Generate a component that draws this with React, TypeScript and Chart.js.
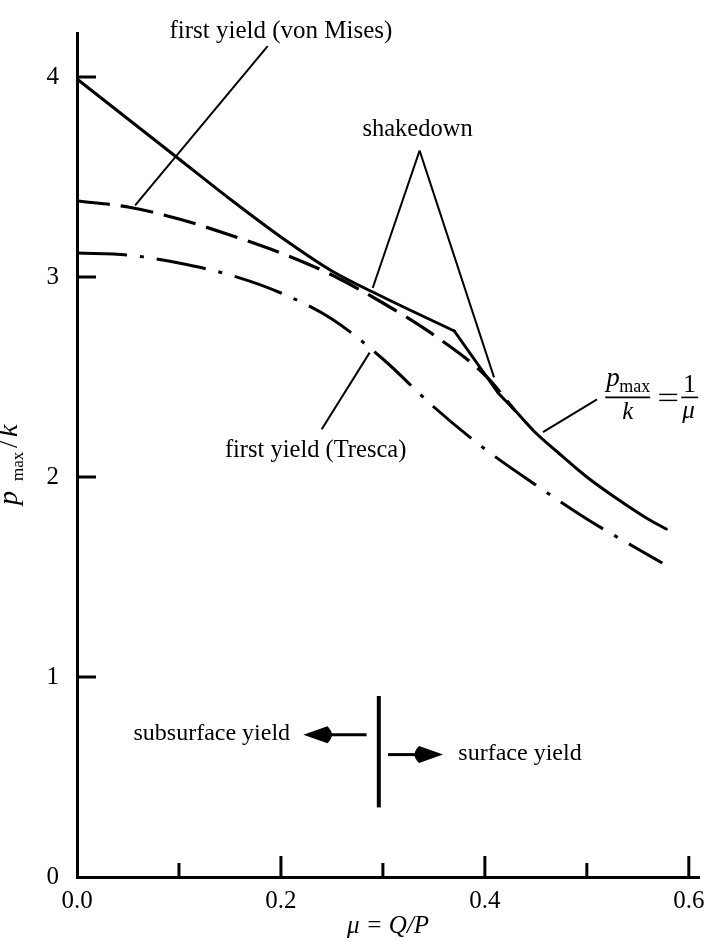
import React, { useEffect, useRef } from 'react';
import { Chart, registerables } from 'chart.js';

Chart.register(...registerables);

const FONT = '"Liberation Serif", "Times New Roman", serif';

// shakedown limit (solid), three pieces: curve, kink segment, 1/mu branch
const shakedownMu = [0, 0.05, 0.1, 0.15, 0.2, 0.25, 0.3, 0.37];
const shakedownP = [3.99, 3.79, 3.59, 3.39, 3.2, 3.03, 2.9, 2.73];
const kinkMu = [0.37, 0.413];
const kinkP = [2.73, 2.42];
const limitMu = [0.413, 0.43, 0.45, 0.47, 0.5, 0.53, 0.56, 0.578];
const limitP = [2.42, 2.33, 2.22, 2.13, 2.0, 1.89, 1.79, 1.74];
// first yield (von Mises), dashed
const vonMisesMu = [0, 0.05, 0.1, 0.15, 0.2, 0.25, 0.3, 0.35, 0.4, 0.43];
const vonMisesP = [3.38, 3.35, 3.29, 3.21, 3.12, 3.01, 2.87, 2.71, 2.51, 2.33];
// first yield (Tresca), dash-dot
const trescaMu = [0, 0.05, 0.1, 0.15, 0.2, 0.25, 0.3, 0.35, 0.4, 0.45, 0.5, 0.55, 0.574];
const trescaP = [3.12, 3.11, 3.07, 3.01, 2.92, 2.79, 2.59, 2.35, 2.14, 1.96, 1.79, 1.64, 1.57];

const xTickLabels = [0, 0.2, 0.4, 0.6];
const xMinorTicks = [0.1, 0.3, 0.5];
const yTickLabels = [0, 1, 2, 3, 4];

const pts = (xs: number[], ys: number[]) => xs.map((x, i) => ({ x, y: ys[i] }));

const annotationPlugin = {
  id: 'annotations',
  afterDraw(chart: any) {
    const { ctx, chartArea } = chart;
    const xs = chart.scales.x;
    const ys = chart.scales.y;
    const px = (m: number) => xs.getPixelForValue(m);
    const py = (v: number) => ys.getPixelForValue(v);
    const line = (x1: number, y1: number, x2: number, y2: number) => {
      ctx.beginPath();
      ctx.moveTo(x1, y1);
      ctx.lineTo(x2, y2);
      ctx.stroke();
    };
    ctx.save();
    ctx.strokeStyle = '#000';
    ctx.fillStyle = '#000';
    ctx.lineCap = 'butt';

    // inward ticks
    ctx.lineWidth = 3;
    yTickLabels.forEach((v) => {
      if (v > 0) line(px(0), py(v), px(0) + 19, py(v));
    });
    xTickLabels.forEach((v) => {
      if (v > 0) line(px(v), py(0), px(v), py(0) - 21);
    });
    xMinorTicks.forEach((v) => line(px(v), py(0), px(v), py(0) - 14));

    // leader lines
    ctx.lineWidth = 2;
    line(px(0.187), py(4.154), px(0.057), py(3.358));
    line(px(0.29), py(2.945), px(0.336), py(3.632));
    line(px(0.336), py(3.632), px(0.409), py(2.498));
    line(px(0.24), py(2.239), px(0.287), py(2.622));
    line(px(0.51), py(2.388), px(0.457), py(2.224));

    // labels
    ctx.textAlign = 'center';
    ctx.textBaseline = 'middle';
    ctx.font = `25px ${FONT}`;
    ctx.fillText('first yield (von Mises)', px(0.2), py(4.23));
    ctx.font = `24.5px ${FONT}`;
    ctx.fillText('shakedown', px(0.334), py(3.736));
    ctx.fillText('first yield (Tresca)', px(0.234), py(2.134));
    ctx.font = `24px ${FONT}`;
    ctx.textAlign = 'right';
    ctx.fillText('subsurface yield', px(0.209), py(0.716));
    ctx.textAlign = 'left';
    ctx.fillText('surface yield', px(0.374), py(0.617));

    // fraction label p_max/k = 1/mu
    const ax = px(0.518);
    const ay = py(2.398);
    ctx.textBaseline = 'alphabetic';
    ctx.textAlign = 'left';
    ctx.font = `italic 27px ${FONT}`;
    ctx.fillText('p', ax + 1, ay - 11);
    ctx.font = `18px ${FONT}`;
    ctx.fillText('max', ax + 14, ay - 5);
    ctx.font = `italic 25px ${FONT}`;
    ctx.fillText('k', ax + 17, ay + 22);
    ctx.font = `25px ${FONT}`;
    ctx.fillText('1', ax + 78, ay - 5);
    ctx.font = `italic 25px ${FONT}`;
    ctx.fillText('μ', ax + 77, ay + 21);
    ctx.lineWidth = 1.6;
    line(ax, ay, ax + 45, ay);
    line(ax + 76, ay, ax + 93, ay);
    // equals sign
    ctx.lineWidth = 1.4;
    line(ax + 54, ay - 3, ax + 72, ay - 3);
    line(ax + 54, ay + 3, ax + 72, ay + 3);

    // divider and arrows
    ctx.lineWidth = 4;
    line(px(0.296), py(0.905), px(0.296), py(0.348));
    const arrow = (tail: number, tip: number, yv: number) => {
      const yy = py(yv);
      const t = px(tail);
      const h = px(tip);
      const dir = Math.sign(h - t);
      const base = h - dir * 24;
      ctx.lineWidth = 3;
      line(t, yy, base, yy);
      ctx.beginPath();
      ctx.moveTo(h, yy);
      ctx.lineTo(base, yy - 8.5);
      ctx.quadraticCurveTo(base - dir * 9, yy, base, yy + 8.5);
      ctx.closePath();
      ctx.fill();
    };
    arrow(0.284, 0.222, 0.711);
    arrow(0.305, 0.359, 0.612);

    // y-axis title p_max / k (rotated)
    ctx.save();
    ctx.translate(chartArea.left - 60, 505);
    ctx.rotate(-Math.PI / 2);
    ctx.textAlign = 'left';
    ctx.textBaseline = 'alphabetic';
    ctx.font = `italic 28px ${FONT}`;
    ctx.fillText('p', 0, 0);
    ctx.font = `17px ${FONT}`;
    ctx.fillText('max', 24, 6);
    ctx.font = `26px ${FONT}`;
    ctx.fillText('/', 57, 0);
    ctx.font = `italic 28px ${FONT}`;
    ctx.fillText('k', 68, 0);
    ctx.restore();

    ctx.restore();
  },
};

export default function App() {
  const ref = useRef<HTMLCanvasElement>(null);
  useEffect(() => {
    const solid = {
      borderColor: '#000',
      borderWidth: 3,
      pointRadius: 0,
      showLine: true,
      cubicInterpolationMode: 'monotone' as const,
      borderCapStyle: 'round' as const,
      borderJoinStyle: 'round' as const,
    };
    const chart = new Chart(ref.current!, {
      type: 'scatter',
      data: {
        datasets: [
          { ...solid, label: 'shakedown', data: pts(shakedownMu, shakedownP) },
          { ...solid, label: 'shakedown kink', data: pts(kinkMu, kinkP), cubicInterpolationMode: 'default', tension: 0 },
          { ...solid, label: 'p/k = 1/mu', data: pts(limitMu, limitP) },
          {
            ...solid,
            label: 'first yield (von Mises)',
            data: pts(vonMisesMu, vonMisesP),
            borderWidth: 3.2,
            borderDash: [33, 11],
            borderCapStyle: 'butt',
          },
          {
            ...solid,
            label: 'first yield (Tresca)',
            data: pts(trescaMu, trescaP),
            borderDash: [50, 13, 4, 13],
            borderCapStyle: 'butt',
          },
        ],
      },
      options: {
        animation: false,
        responsive: false,
        devicePixelRatio: 1,
        layout: { padding: { left: 0, top: 29, right: 12, bottom: 0 } },
        plugins: { legend: { display: false }, tooltip: { enabled: false } },
        scales: {
          x: {
            type: 'linear',
            min: 0,
            max: 0.61,
            afterBuildTicks: (s: any) => {
              s.ticks = xTickLabels.map((v) => ({ value: v }));
            },
            afterFit: (s: any) => {
              s.height = 71;
              s.paddingLeft = 0;
              s.paddingRight = 0;
            },
            grid: { display: false, drawTicks: false },
            border: { display: true, color: '#000', width: 3 },
            ticks: {
              color: '#000',
              font: { family: FONT, size: 25 },
              padding: 9,
              maxRotation: 0,
              autoSkip: false,
              callback: (v: any) => Number(v).toFixed(1),
            },
            title: {
              display: true,
              text: 'μ = Q/P',
              color: '#000',
              font: { family: FONT, size: 25, style: 'italic' },
              padding: { top: 0, bottom: 7 },
            },
          },
          y: {
            type: 'linear',
            min: 0,
            max: 4.22,
            afterBuildTicks: (s: any) => {
              s.ticks = yTickLabels.map((v) => ({ value: v }));
            },
            afterFit: (s: any) => {
              s.width = 77;
            },
            grid: { display: false, drawTicks: false },
            border: { display: true, color: '#000', width: 3 },
            ticks: {
              color: '#000',
              font: { family: FONT, size: 25 },
              padding: 18,
              callback: (v: any) => String(v),
            },
          },
        },
      },
      plugins: [annotationPlugin],
    } as any);
    return () => chart.destroy();
  }, []);
  return (
    <div style={{ position: 'absolute', left: 0, top: 0, width: 711, height: 948, background: '#fff' }}>
      <canvas ref={ref} width={711} height={948} style={{ display: 'block', width: 711, height: 948 }} />
    </div>
  );
}
